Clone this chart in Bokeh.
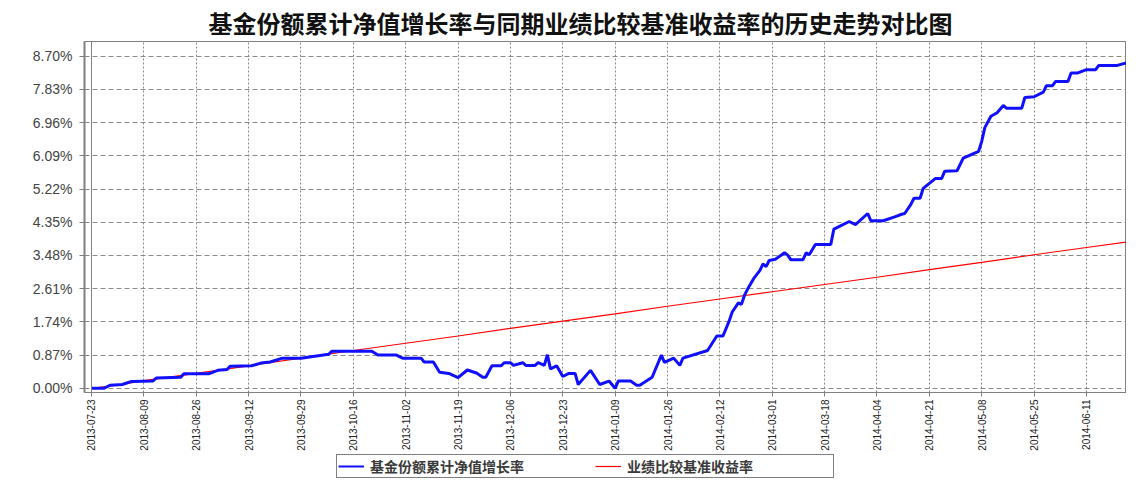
import pandas as pd
from bokeh.plotting import figure
from bokeh.layouts import column
from bokeh.models import (FixedTicker, PrintfTickFormatter, DatetimeTickFormatter,
                          Range1d, Legend, LegendItem, Span)
from bokeh.embed import file_html
from bokeh.resources import INLINE
import math

title_text = "基金份额累计净值增长率与同期业绩比较基准收益率的历史走势对比图"
series_names = ["基金份额累计净值增长率", "业绩比较基准收益率"]
start_date = "2013-07-23"
tick_labels = ["2013-07-23", "2013-08-09", "2013-08-26", "2013-09-12", "2013-09-29",
               "2013-10-16", "2013-11-02", "2013-11-19", "2013-12-06", "2013-12-23",
               "2014-01-09", "2014-01-26", "2014-02-12", "2014-03-01", "2014-03-18",
               "2014-04-04", "2014-04-21", "2014-05-08", "2014-05-25", "2014-06-11",
               "2014-06-28"]
y_ticks = [0.00, 0.87, 1.74, 2.61, 3.48, 4.35, 5.22, 6.09, 6.96, 7.83, 8.70]

# fund cumulative NAV growth (%), days after start_date
blue_day = [0, 4, 6, 10, 13, 20, 21, 29, 30, 38, 41, 44, 45, 52, 55, 58, 62, 68, 77, 78,
            91, 93, 99, 101, 107, 108, 111, 113, 116, 119, 122, 125, 127, 128, 130, 133,
            134, 136, 137, 140, 141, 144, 145, 147, 148, 149, 151, 153, 155, 157, 158,
            162, 165, 168, 170, 171, 175, 177, 178, 182, 185, 186, 189, 191, 192, 200,
            203, 205, 207, 208, 210, 211, 212, 213, 215, 217, 218, 219, 220, 222, 225,
            226, 227, 231, 232, 233, 235, 240, 241, 246, 248, 252, 253, 257, 261, 263,
            264, 266, 267, 269, 270, 274, 276, 277, 281, 283, 288, 289, 290, 292, 294,
            296, 297, 302, 303, 306, 309, 310, 312, 313, 317, 318, 320, 323, 326, 327,
            333, 337, 341]
blue_pct = [0.00, 0.00, 0.08, 0.10, 0.18, 0.19, 0.27, 0.29, 0.38, 0.38, 0.47, 0.49, 0.58,
            0.59, 0.66, 0.69, 0.79, 0.79, 0.89, 0.97, 0.97, 0.87, 0.87, 0.79, 0.79, 0.69,
            0.69, 0.42, 0.39, 0.28, 0.48, 0.40, 0.29, 0.29, 0.59, 0.59, 0.67, 0.67, 0.60,
            0.67, 0.60, 0.60, 0.67, 0.60, 0.88, 0.51, 0.59, 0.31, 0.39, 0.39, 0.10, 0.47,
            0.10, 0.19, 0.00, 0.19, 0.19, 0.08, 0.08, 0.29, 0.87, 0.68, 0.79, 0.60, 0.79,
            0.99, 1.37, 1.37, 1.76, 2.00, 2.24, 2.20, 2.44, 2.60, 2.88, 3.09, 3.26, 3.19,
            3.35, 3.38, 3.55, 3.49, 3.37, 3.37, 3.55, 3.50, 3.77, 3.77, 4.17, 4.37, 4.29,
            4.58, 4.39, 4.39, 4.50, 4.56, 4.58, 4.82, 4.98, 4.98, 5.24, 5.50, 5.50, 5.69,
            5.70, 6.03, 6.21, 6.47, 6.83, 7.13, 7.22, 7.41, 7.34, 7.34, 7.62, 7.64, 7.76,
            7.93, 7.93, 8.04, 8.04, 8.26, 8.26, 8.35, 8.35, 8.46, 8.46, 8.55, 8.56]

# benchmark return (%), days after start_date
red_day = [0, 10, 17, 34, 51, 68, 85, 102, 119, 136, 153, 170, 187, 204, 221, 238, 255,
           272, 289, 306, 323, 341]
red_pct = [0.00, 0.10, 0.20, 0.39, 0.59, 0.79, 0.99, 1.18, 1.37, 1.57, 1.76, 1.95, 2.15,
           2.34, 2.53, 2.72, 2.91, 3.11, 3.30, 3.50, 3.69, 3.89]

blue_color = "#1010ff"
red_color = "#ff0000"

base = pd.Timestamp(start_date)
blue_x = list(base + pd.to_timedelta(blue_day, unit="D"))
red_x = list(base + pd.to_timedelta(red_day, unit="D"))
tick_ms = [pd.Timestamp(t).value // 10**6 for t in tick_labels]

x_start = base - pd.Timedelta(hours=54.5)
x_end = base + pd.Timedelta(days=336)

p = figure(width=1126, height=453, x_axis_type="datetime",
           output_backend="svg", toolbar_location=None,
           x_range=Range1d(x_start, x_end), y_range=Range1d(-0.11, 9.087),
           min_border_left=84, min_border_right=0, min_border_top=38,
           min_border_bottom=58)
p.background_fill_color = "white"
p.border_fill_color = "white"
p.outline_line_color = "#808080"
p.outline_line_width = 1

# title
p.title.text = title_text
p.title.align = "left"
p.title.offset = 124
p.title.standoff = 4
p.title.text_font = "Noto Sans CJK SC"
p.title.text_font_size = "24px"
p.title.text_font_style = "bold"
p.title.text_color = "#111111"

# axes
p.xaxis.ticker = FixedTicker(ticks=tick_ms)
fmt = "%Y-%m-%d"
p.xaxis.formatter = DatetimeTickFormatter(milliseconds=fmt, seconds=fmt, minsec=fmt,
                                          minutes=fmt, hourmin=fmt, hours=fmt, days=fmt,
                                          months=fmt, years=fmt)
p.xaxis.major_label_orientation = math.pi / 2
p.xaxis.major_label_text_font = "Liberation Sans"
p.xaxis.major_label_text_font_size = "10px"
p.xaxis.major_label_text_color = "#222222"
p.xaxis.major_label_standoff = 3
p.xaxis.major_tick_out = 4
p.xaxis.major_tick_in = 0
p.xaxis.minor_tick_line_color = None
p.xaxis.axis_line_color = "#808080"
p.xaxis.major_tick_line_color = "#808080"

p.yaxis.ticker = FixedTicker(ticks=y_ticks)
p.yaxis.formatter = PrintfTickFormatter(format="%.2f%%")
p.yaxis.major_label_text_font = "Liberation Sans"
p.yaxis.major_label_text_font_size = "14px"
p.yaxis.major_label_text_color = "#444444"
p.yaxis.major_label_standoff = 7
p.yaxis.major_tick_out = 5
p.yaxis.major_tick_in = 0
p.yaxis.minor_tick_line_color = None
p.yaxis.axis_line_color = "#808080"
p.yaxis.axis_line_width = 2
p.yaxis.major_tick_line_color = "#808080"

p.xgrid.grid_line_color = "#8a8a8a"
p.xgrid.grid_line_dash = "2 2"
p.ygrid.grid_line_color = "#8a8a8a"
p.ygrid.grid_line_dash = "5 3"

p.add_layout(Span(location=base, dimension="height", line_color="#808080",
                  line_width=1))

p.line(red_x, red_pct, line_color=red_color, line_width=1.2)
p.line(blue_x, blue_pct, line_color=blue_color, line_width=3)

# legend strip below the chart (its frame is aligned with the chart frame)
lg = figure(width=1126, height=27, output_backend="svg", toolbar_location=None,
            x_range=Range1d(0, 1), y_range=Range1d(0, 1),
            x_axis_location=None, y_axis_location=None, min_border=0)
lg.outline_line_color = None
lg.grid.visible = False
lg.background_fill_color = "white"
lg.border_fill_color = "white"
# same series, outside this strip's ranges: only their legend glyphs show
lr_blue = lg.line(blue_x, blue_pct, line_color=blue_color, line_width=2)
lr_red = lg.line(red_x, red_pct, line_color=red_color, line_width=1.2)

legend = Legend(items=[LegendItem(label=series_names[0], renderers=[lr_blue]),
                       LegendItem(label=series_names[1], renderers=[lr_red])],
                orientation="horizontal", location=(252, 2),
                border_line_color="black", border_line_width=1,
                background_fill_color="white", background_fill_alpha=1,
                label_text_font="Noto Sans CJK SC", label_text_font_size="14px",
                label_text_font_style="bold", label_text_color="#3a3a3a",
                label_height=14,
                glyph_width=26, glyph_height=12, label_standoff=6, spacing=20,
                padding=1, margin=0, label_width=205)
lg.add_layout(legend)

layout = column(p, lg, spacing=0)
open("out.html", "w").write(file_html(layout, INLINE))
